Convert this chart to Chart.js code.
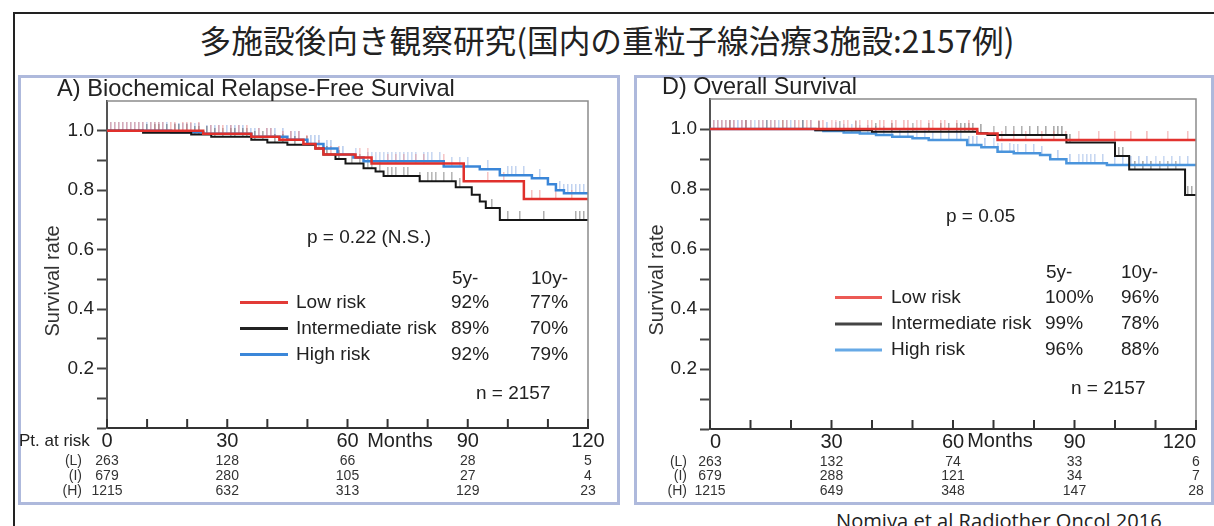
<!DOCTYPE html>
<html>
<head>
<meta charset="utf-8">
<script src="https://cdn.jsdelivr.net/npm/chart.js@4/dist/chart.umd.min.js"></script>
<style>
  html, body { margin: 0; padding: 0; background: #fff; }
  #page { position: relative; width: 1214px; height: 526px; overflow: hidden; background: #fff; }
  .rule { position: absolute; background: #222; }
  .panel { position: absolute; top: 75px; height: 430px; border: 3px solid #aeb9dc; box-sizing: border-box; }
  #title { position: absolute; left: 0; top: 17px; width: 1214px; text-align: center; white-space: nowrap;
           font-family: "Noto Sans CJK JP", sans-serif; font-size: 31px; line-height: 44px; color: #222; }
  #cite { position: absolute; left: 836px; top: 510px; white-space: nowrap;
          font-family: "Open Sans", "Liberation Sans", sans-serif; font-size: 20px; line-height: 20px; color: #222; }
  canvas { position: absolute; }
</style>
</head>
<body>
<div id="page">
  <div class="rule" style="left:13px;top:12px;width:1201px;height:2px"></div>
  <div class="rule" style="left:13px;top:12px;width:2px;height:514px"></div>
  <div id="title"><span id="titleText">多施設後向き観察研究(国内の重粒子線治療3施設:2157例)</span></div>
  <div class="panel" style="left:18px;width:602px"></div>
  <div class="panel" style="left:634px;width:580px"></div>
  <canvas id="bfs" width="617" height="429" style="left:0px;top:76px"></canvas>
  <canvas id="os" width="594" height="429" style="left:620px;top:76px"></canvas>
  <div id="cite"><span id="citeText">Nomiya et al Radiother Oncol 2016</span></div>
</div>
<script>
// ---------- axes ----------
const monthTicks = [0, 10, 20, 30, 40, 50, 60, 70, 80, 90, 100, 110, 120];
const monthLabels = [0, 30, 60, 90, 120];
const survTicks = [0, 0.1, 0.2, 0.3, 0.4, 0.5, 0.6, 0.7, 0.8, 0.9, 1.0];
const survLabels = [0.2, 0.4, 0.6, 0.8, 1.0];

const groupNames = ['Low risk', 'Intermediate risk', 'High risk'];
const groupTags = ['(L)', '(I)', '(H)'];
const riskMonths = [0, 30, 60, 90, 120];

// ---------- A) Biochemical relapse-free survival ----------
const bfsLowT = [0, 24, 36, 43, 49, 52, 54, 62, 66, 89, 104, 120];
const bfsLowS = [1, 0.99, 0.98, 0.97, 0.955, 0.94, 0.92, 0.91, 0.89, 0.83, 0.77, 0.77];
const bfsIntT = [0, 9, 21, 26, 36, 40, 45, 52, 54, 57, 59.5, 64, 67, 69, 78, 87, 91, 93, 94.5, 98, 120];
const bfsIntS = [1, 0.993, 0.987, 0.98, 0.97, 0.96, 0.953, 0.94, 0.92, 0.905, 0.89, 0.874, 0.863, 0.848, 0.83, 0.81, 0.785, 0.762, 0.74, 0.70, 0.70];
const bfsHighT = [0, 16, 24, 36, 45, 50, 54, 57.5, 61.5, 64, 84, 93, 98, 106, 110, 112, 114, 120];
const bfsHighS = [1, 0.995, 0.99, 0.98, 0.97, 0.955, 0.94, 0.92, 0.91, 0.897, 0.88, 0.87, 0.85, 0.84, 0.82, 0.80, 0.79, 0.79];

const bfsLowCens = [1, 2, 3, 4, 5, 6, 7, 8, 9, 11, 12, 13, 14, 16, 17, 19, 20, 21, 23, 26, 28, 29, 31, 33, 35, 38, 40, 41, 44, 46, 48, 50, 53, 56, 58, 63, 65, 70, 72, 74, 77, 79, 84, 95, 99, 106, 108, 112, 116];
const bfsIntCens = [10, 12, 13, 15, 17, 18, 20, 22, 23, 25, 27, 29, 31, 32, 34, 35, 37, 39, 42, 44, 47, 50, 55, 58, 61, 63, 65, 66, 68, 70, 71, 72, 74, 75, 78, 80, 81, 82, 84, 86, 88, 96, 98, 100, 103, 109, 117, 118, 119];
const bfsHighCens = [1, 2, 3, 4, 5, 6, 7, 8, 9, 10, 11, 12, 13, 14, 15, 17, 18, 19, 20, 21, 22, 23, 25, 26, 27, 28, 30, 31, 32, 33, 34, 36, 37, 38, 40, 41, 42, 44, 46, 47, 48, 51, 52, 53, 55, 56, 59, 62, 65, 66, 67, 68, 69, 70, 71, 72, 73, 74, 75, 76, 77, 79, 80, 81, 83, 86, 88, 90, 95, 100, 101, 102, 104, 108, 113, 114, 115, 116, 117, 118, 119];

const bfsRiskL = [263, 128, 66, 28, 5];
const bfsRiskI = [679, 280, 105, 27, 4];
const bfsRiskH = [1215, 632, 313, 129, 23];
const bfs5y = [92, 89, 92];
const bfs10y = [77, 70, 79];

// ---------- D) Overall survival ----------
const osLowT = [0, 66, 71, 120];
const osLowS = [1, 0.985, 0.963, 0.963];
const osIntT = [0, 26, 40, 66, 68.5, 88, 100, 103.5, 117.3, 120];
const osIntS = [1, 0.996, 0.991, 0.986, 0.98, 0.955, 0.91, 0.865, 0.78, 0.78];
const osHighT = [0, 26, 28, 33, 37, 41, 45, 50, 54, 63.5, 67, 71, 75, 81.5, 84, 88, 98, 120];
const osHighS = [1, 0.997, 0.993, 0.988, 0.985, 0.98, 0.974, 0.969, 0.963, 0.947, 0.939, 0.924, 0.919, 0.913, 0.899, 0.886, 0.88, 0.88];

const osLowCens = [1, 2, 3, 4, 5, 6, 8, 9, 10, 12, 13, 15, 16, 18, 19, 21, 22, 24, 25, 27, 28, 30, 31, 33, 34, 36, 37, 39, 40, 42, 43, 45, 46, 48, 49, 51, 52, 54, 55, 57, 58, 61, 64, 72, 75, 78, 82, 85, 88, 91, 96, 100, 104, 108, 113, 118];
const osIntCens = [5, 9, 14, 18, 23, 27, 32, 36, 41, 45, 50, 54, 57, 59, 61, 62, 63, 64, 65, 67, 70, 73, 75, 77, 79, 81, 83, 85, 86, 87, 89, 101, 102, 105, 107, 109, 111, 113, 115, 118, 119];
const osHighCens = [1, 2, 3, 4, 5, 6, 7, 8, 9, 10, 11, 12, 13, 14, 15, 16, 17, 19, 20, 21, 23, 25, 27, 29, 31, 33, 35, 37, 39, 41, 43, 45, 47, 49, 51, 53, 55, 57, 59, 61, 62, 64, 65, 66, 68, 70, 71, 72, 74, 75, 76, 78, 80, 82, 86, 89, 91, 92, 93, 94, 95, 97, 100, 102, 104, 106, 108, 110, 112, 114, 116, 118];

const osRiskL = [263, 132, 74, 33, 6];
const osRiskI = [679, 288, 121, 34, 7];
const osRiskH = [1215, 649, 348, 147, 28];
const os5y = [100, 99, 96];
const os10y = [96, 78, 88];

// ---------- helpers ----------
const SANS = "'Liberation Sans', Arial, Helvetica, sans-serif";
Chart.defaults.font.family = SANS;
Chart.defaults.color = '#222';

// Kaplan-Meier value of a step curve at time t
function survAt(T, S, t) {
  let v = S[0];
  for (let i = 0; i < T.length; i++) { if (T[i] <= t) v = S[i]; }
  return v;
}

// censor mark: short vertical tick sitting on top of the curve
function censorMark(color) {
  const c = document.createElement('canvas');
  c.width = 2; c.height = 18;
  const g = c.getContext('2d');
  g.fillStyle = color;
  g.fillRect(0, 0, 1.5, 9);
  return c;
}

function fitSize(ctx, text, family, target) {
  ctx.font = '100px ' + family;
  return 100 * target / ctx.measureText(text).width;
}

const isIn = (list, v) => list.some(l => Math.abs(l - v) < 1e-9);

// frame, inward month ticks and all panel annotations
const panelDecor = {
  id: 'panelDecor',
  afterDraw(chart, args, o) {
    const ctx = chart.ctx;
    const a = chart.chartArea;
    const xs = chart.scales.x;
    ctx.save();
    // plot box: grey top and right edges
    ctx.strokeStyle = '#8c8c8c';
    ctx.lineWidth = 1.5;
    ctx.beginPath();
    ctx.moveTo(a.left, a.top); ctx.lineTo(a.right, a.top); ctx.lineTo(a.right, a.bottom);
    ctx.stroke();
    // month ticks pointing into the plot
    ctx.strokeStyle = '#333';
    ctx.lineWidth = 2;
    monthTicks.forEach(m => {
      const px = xs.getPixelForValue(m);
      ctx.beginPath(); ctx.moveTo(px, a.bottom); ctx.lineTo(px, a.bottom - 9); ctx.stroke();
    });

    // annotations are laid out in page coordinates
    ctx.translate(-o.offX, -o.offY);
    ctx.fillStyle = '#222';
    ctx.textBaseline = 'middle';

    // panel title
    ctx.textAlign = 'left';
    ctx.font = fitSize(ctx, o.title.text, SANS, o.title.width).toFixed(2) + 'px ' + SANS;
    ctx.fillText(o.title.text, o.title.x, o.title.y);

    // y axis title
    ctx.save();
    ctx.translate(o.yTitle.x, o.yTitle.y);
    ctx.rotate(-Math.PI / 2);
    ctx.textAlign = 'center';
    ctx.font = '20px ' + SANS;
    ctx.fillStyle = '#333';
    ctx.fillText('Survival rate', 0, 0);
    ctx.restore();

    ctx.font = '19px ' + SANS;
    ctx.textAlign = 'left';
    ctx.fillText(o.pText.text, o.pText.x, o.pText.y);
    ctx.fillText('5y-', o.head.x5, o.head.y);
    ctx.fillText('10y-', o.head.x10, o.head.y);
    o.rows.y.forEach((ry, i) => {
      ctx.strokeStyle = o.legendColors[i];
      ctx.lineWidth = 3;
      ctx.beginPath(); ctx.moveTo(o.rows.lineX0, ry); ctx.lineTo(o.rows.lineX1, ry); ctx.stroke();
      ctx.fillText(groupNames[i], o.rows.textX, ry);
      ctx.fillText(o.fiveY[i] + '%', o.rows.x5, ry);
      ctx.fillText(o.tenY[i] + '%', o.rows.x10, ry);
    });
    ctx.fillText('n = 2157', o.n.x, o.n.y);

    // time axis caption
    ctx.font = '20px ' + SANS;
    ctx.textAlign = 'center';
    ctx.fillText('Months', o.months.x, o.months.y);
    if (o.ptAtRisk) {
      ctx.font = '17px ' + SANS;
      ctx.textAlign = 'left';
      ctx.fillText('Pt. at risk', o.ptAtRisk.x, o.ptAtRisk.y);
    }

    // numbers at risk
    ctx.font = '14px ' + SANS;
    ctx.fillStyle = '#333';
    o.risk.rows.forEach((row, i) => {
      const ry = o.risk.y[i];
      ctx.textAlign = 'right';
      ctx.fillText(groupTags[i], o.risk.labelRight, ry);
      ctx.textAlign = 'center';
      row.forEach((n, k) => {
        ctx.fillText(String(n), xs.getPixelForValue(riskMonths[k]) + o.offX, ry);
      });
    });
    ctx.restore();
  }
};

function makePanel(id, cfg) {
  const datasets = [];
  cfg.groups.forEach((g, i) => {
    datasets.push({
      data: g.T.map((t, k) => ({ x: t, y: g.S[k] })),
      borderColor: g.color, borderWidth: g.width, stepped: true,
      pointRadius: 0, fill: false, order: i
    });
  });
  cfg.groups.forEach((g, i) => {
    datasets.push({
      data: g.C.map(t => ({ x: t, y: survAt(g.T, g.S, t) })),
      showLine: false, pointStyle: censorMark(g.censor), pointRadius: 4,
      order: 10 + i
    });
  });
  return new Chart(document.getElementById(id), {
    type: 'line',
    data: { datasets },
    options: {
      responsive: false, animation: false, devicePixelRatio: 1,
      layout: { padding: { top: cfg.padTop, right: cfg.padRight, left: 0, bottom: 0 } },
      plugins: { legend: { display: false }, tooltip: { enabled: false }, panelDecor: cfg.notes },
      scales: {
        x: {
          type: 'linear', min: 0, max: 120,
          afterBuildTicks: s => { s.ticks = monthTicks.map(v => ({ value: v })); },
          afterFit: s => { s.height = cfg.xAxisH; },
          grid: { display: false, drawTicks: false, tickLength: 0 },
          border: { display: true, color: '#333', width: 2 },
          ticks: { autoSkip: false, maxRotation: 0, padding: 1, align: cfg.xAlign, color: '#222',
                   font: { size: 20 }, callback: v => isIn(monthLabels, v) ? String(v) : '' }
        },
        y: {
          type: 'linear', min: 0, max: 1.1,
          afterBuildTicks: s => { s.ticks = survTicks.map(v => ({ value: v })); },
          afterFit: s => { s.width = cfg.yAxisW; },
          grid: { display: true, drawOnChartArea: false, drawTicks: true, tickLength: 10, tickWidth: 2, tickColor: '#444' },
          border: { display: true, color: '#555', width: 2 },
          ticks: { autoSkip: false, padding: 3, color: '#222', font: { size: 19 },
                   callback: v => isIn(survLabels, v) ? v.toFixed(1) : '' }
        }
      }
    },
    plugins: [panelDecor]
  });
}

makePanel('bfs', {
  padTop: 25, padRight: 29, yAxisW: 107, xAxisH: 77, xAlign: 'center',
  groups: [
    { T: bfsLowT, S: bfsLowS, C: bfsLowCens, color: '#e0302c', width: 2.5, censor: 'rgba(236,130,130,0.5)' },
    { T: bfsIntT, S: bfsIntS, C: bfsIntCens, color: '#161616', width: 2, censor: 'rgba(90,90,90,0.5)' },
    { T: bfsHighT, S: bfsHighS, C: bfsHighCens, color: '#3a86d8', width: 2.5, censor: 'rgba(130,165,225,0.5)' }
  ],
  notes: {
    offX: 0, offY: 76,
    title: { text: 'A) Biochemical Relapse-Free Survival', x: 57, y: 89, width: 398 },
    yTitle: { x: 53.5, y: 281 },
    pText: { text: 'p = 0.22 (N.S.)', x: 307, y: 238 },
    head: { y: 279, x5: 452, x10: 531 },
    rows: { y: [302.5, 328.5, 354.5], lineX0: 240, lineX1: 288, textX: 296, x5: 451, x10: 530 },
    legendColors: ['#e23b37', '#222', '#3b87d9'],
    fiveY: bfs5y, tenY: bfs10y,
    n: { x: 476, y: 394 },
    months: { x: 400, y: 441 },
    ptAtRisk: { x: 19, y: 441 },
    risk: { labelRight: 82, y: [461, 476, 491], rows: [bfsRiskL, bfsRiskI, bfsRiskH] }
  }
});

makePanel('os', {
  padTop: 23, padRight: 18, yAxisW: 90, xAxisH: 76, xAlign: 'inner',
  groups: [
    { T: osLowT, S: osLowS, C: osLowCens, color: '#e2332f', width: 2.5, censor: 'rgba(236,130,130,0.5)' },
    { T: osIntT, S: osIntS, C: osIntCens, color: '#161616', width: 2, censor: 'rgba(90,90,90,0.5)' },
    { T: osHighT, S: osHighS, C: osHighCens, color: '#4a94dc', width: 2.5, censor: 'rgba(130,165,225,0.5)' }
  ],
  notes: {
    offX: 620, offY: 76,
    title: { text: 'D) Overall Survival', x: 662, y: 88, width: 195 },
    yTitle: { x: 657, y: 280 },
    pText: { text: 'p = 0.05', x: 946, y: 217 },
    head: { y: 273, x5: 1046, x10: 1121 },
    rows: { y: [297.5, 324, 350], lineX0: 835, lineX1: 882, textX: 891, x5: 1045, x10: 1121 },
    legendColors: ['#ec5a55', '#444', '#67a9e6'],
    fiveY: os5y, tenY: os10y,
    n: { x: 1071, y: 389 },
    months: { x: 1000, y: 441 },
    ptAtRisk: null,
    risk: { labelRight: 687, y: [462, 476.5, 491], rows: [osRiskL, osRiskI, osRiskH] }
  }
});

// size the heading and the citation to their set widths
function fitWidth(spanId, boxId, target) {
  const span = document.getElementById(spanId);
  const box = document.getElementById(boxId);
  const base = parseFloat(getComputedStyle(box).fontSize);
  const w = span.getBoundingClientRect().width;
  box.style.fontSize = (base * target / w).toFixed(2) + 'px';
}
fitWidth('titleText', 'title', 815);
fitWidth('citeText', 'cite', 326);
</script>
</body>
</html>
